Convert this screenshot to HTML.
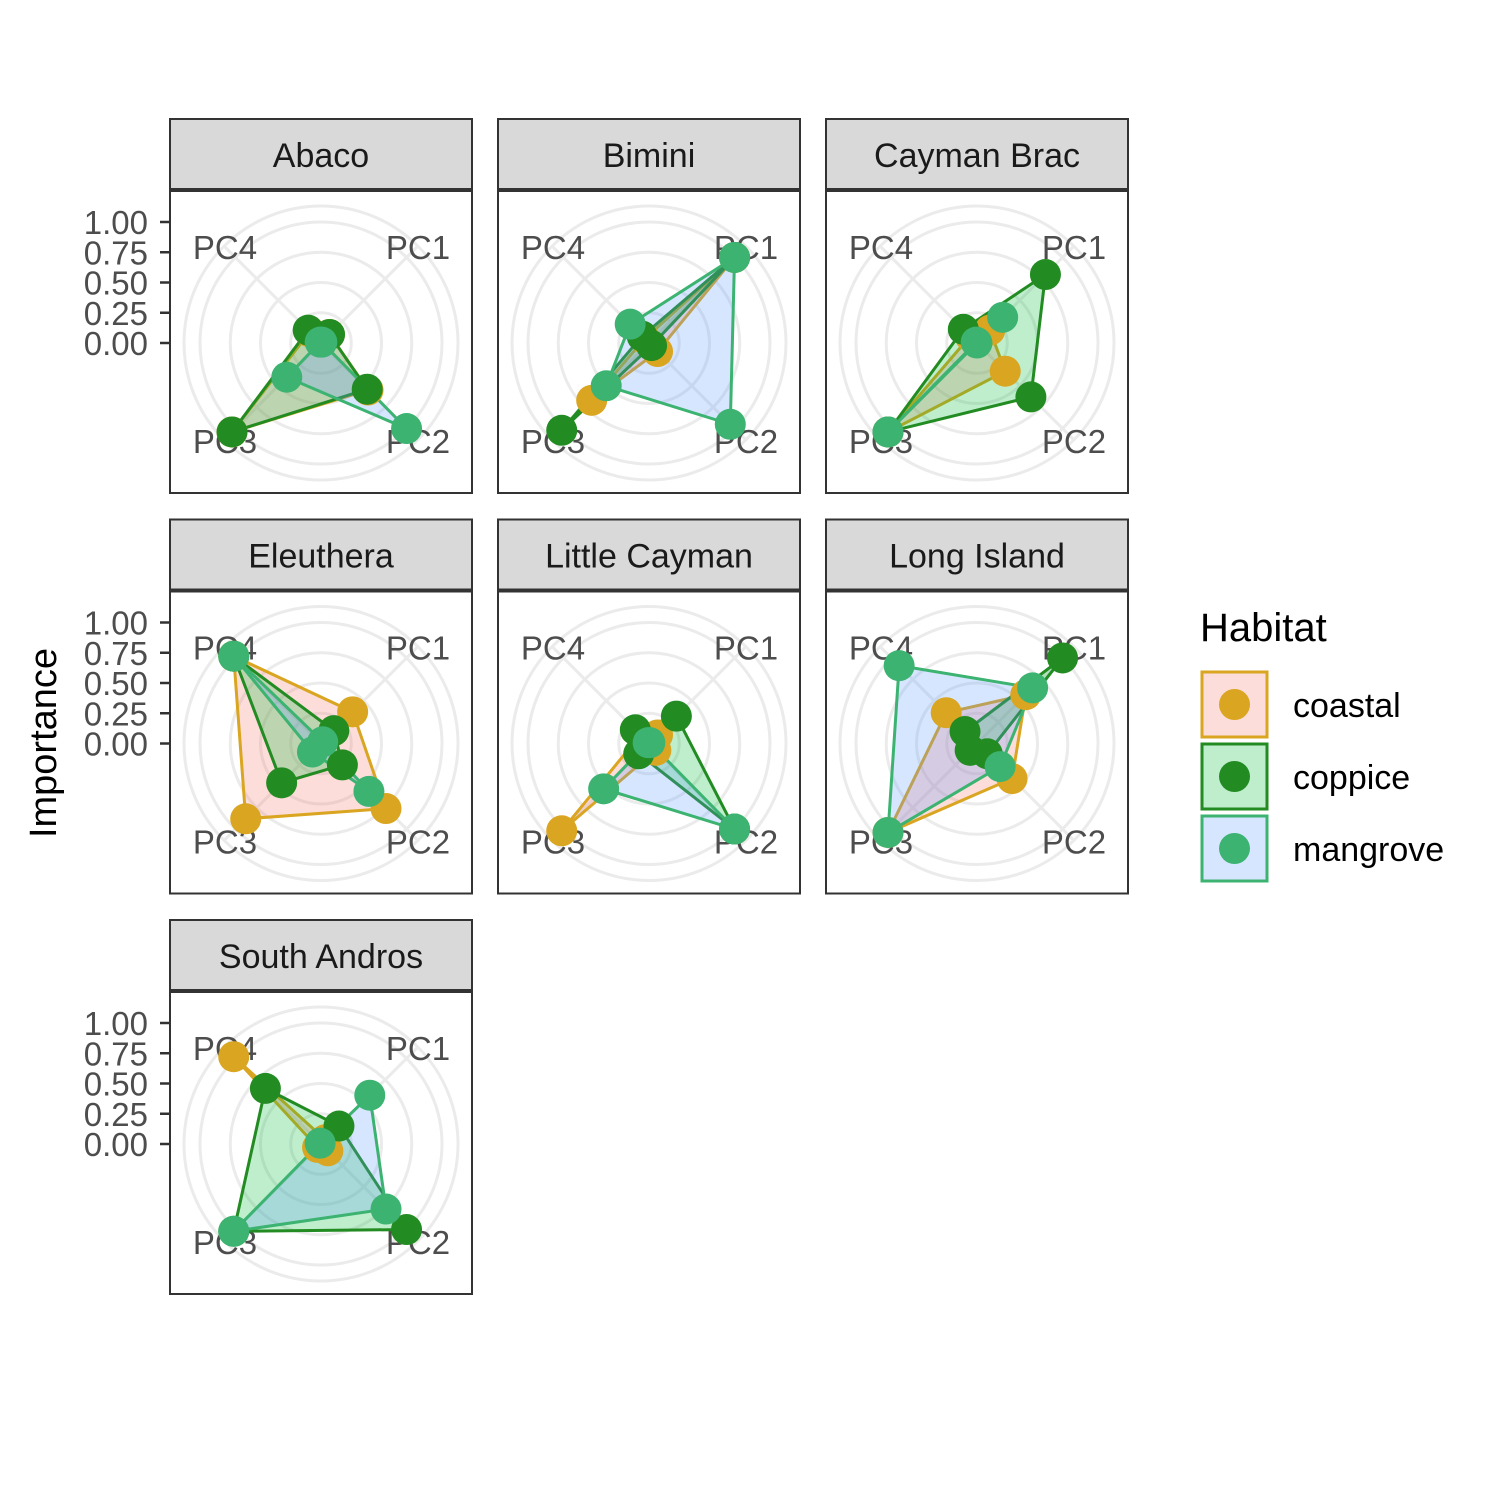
<!DOCTYPE html>
<html><head><meta charset="utf-8">
<style>
html,body{margin:0;padding:0;background:#fff;}
svg{display:block;font-family:"Liberation Sans",Arial,sans-serif;}
</style></head>
<body>
<svg id="chart" width="1500" height="1500" viewBox="0 0 1500 1500" xmlns="http://www.w3.org/2000/svg">
<rect x="0" y="0" width="1500" height="1500" fill="#ffffff"/>
<text x="0" y="0" transform="translate(56,743) rotate(-90)" text-anchor="middle" font-size="38" fill="#000">Importance</text>
<g>
<text x="1200" y="641" font-size="40" fill="#000">Habitat</text>
</g>
</svg>
<script>
const islands = ["Abaco","Bimini","Cayman Brac","Eleuthera","Little Cayman","Long Island","South Andros"];
const habitats = ["coastal","coppice","mangrove"];
const axesLabels = ["PC1","PC2","PC3","PC4"];
const tickValues = [0, 0.25, 0.5, 0.75, 1];
const tickLabels = ["0.00","0.25","0.50","0.75","1.00"];
// values per island, per habitat: [PC1, PC2, PC3, PC4]
const coastalVals = [
 [0.10,0.55,1.04,0.13],[1.00,0.10,0.67,0.05],[0.15,0.33,1.04,0.08],[0.37,0.76,0.88,1.02],
 [0.10,0.08,1.02,0.10],[0.57,0.41,1.04,0.36],[0.05,0.08,0.04,1.02]];
const coppiceVals = [
 [0.10,0.54,1.04,0.15],[1.00,0.03,1.02,0.08],[0.80,0.63,1.04,0.16],[0.15,0.25,0.46,1.02],
 [0.32,1.00,0.12,0.16],[1.00,0.12,0.08,0.14],[0.21,1.00,1.02,0.65]];
const mangroveVals = [
 [0.01,1.00,0.40,0.01],[1.00,0.95,0.50,0.22],[0.30,0.00,1.04,0.01],[0.02,0.56,0.10,1.02],
 [0.01,1.00,0.53,0.01],[0.65,0.27,1.04,0.91],[0.57,0.76,1.02,0.01]];
const seriesVals = [coastalVals, coppiceVals, mangroveVals];

const lineCols = ["#DAA520","#228B22","#3CB371"];
const fillCols = ["#F8766D","#00BA38","#619CFF"];
const NS = "http://www.w3.org/2000/svg";
const svg = document.getElementById("chart");
const R1 = 121;
function mk(tag, attrs, parent){const e=document.createElementNS(NS,tag);for(const k in attrs)e.setAttribute(k,attrs[k]);(parent||svg).appendChild(e);return e;}
const angles = [-45, 45, 135, 225].map(a=>a*Math.PI/180);
function rScale(v){return v*R1;}
function pt(cx,cy,i,v){const r=rScale(v);return [cx+r*Math.cos(angles[i]), cy+r*Math.sin(angles[i])];}

islands.forEach((name, k)=>{
  const col=k%3,row=Math.floor(k/3);
  const px=170+col*328, sy=119+row*400.5;
  const g=mk("g",{});
  
  
  const strip=mk("rect",{x:px,y:sy,width:302,height:70,fill:"#d9d9d9",stroke:"#333",["stroke-width"]:2},g);
  
  
  const st=mk("text",{x:px+151,y:sy+48,"text-anchor":"middle","font-size":34,fill:"#1a1a1a"},g);
  st.textContent=name;
  
  
  const top=sy+72;
  mk("rect",{x:px,y:top,width:302,height:302,fill:"#fff"},g);
  const cx=px+151, cy=top+152;
  [0.25,0.5,0.75,1.0].forEach(v=>mk("circle",{cx,cy,r:rScale(v),fill:"none",stroke:"#ebebeb","stroke-width":3},g));
  mk("circle",{cx,cy,r:137,fill:"none",stroke:"#ebebeb","stroke-width":3},g);
  for(let i=0;i<4;i++){const p=pt(cx,cy,i,1.13);mk("line",{x1:cx,y1:cy,x2:p[0],y2:p[1],stroke:"#ebebeb","stroke-width":3},g);}
  const lp=[[px+248,top+68],[px+248,top+262],[px+55,top+262],[px+55,top+68]];
  axesLabels.forEach((l,i)=>{const t=mk("text",{x:lp[i][0],y:lp[i][1],"text-anchor":"middle","font-size":33,fill:"#4d4d4d"},g);t.textContent=l;
    
    });
  if(col===0){tickValues.forEach((v,i)=>{const y=cy-rScale(v);
    mk("line",{x1:px-10,y1:y,x2:px,y2:y,stroke:"#333","stroke-width":2.5},g);
    const t=mk("text",{x:px-22,y:y+12,"text-anchor":"end","font-size":33,fill:"#4d4d4d"},g);t.textContent=tickLabels[i];
    
    });}
  const allPts=[];
  seriesVals.forEach((sv,h)=>{
    const vals=sv[k];const pts=vals.map((v,i)=>pt(cx,cy,i,v));
    allPts.push(pts);
    const poly=mk("polygon",{points:pts.map(p=>p.join(",")).join(" "),fill:fillCols[h],"fill-opacity":0.25,stroke:lineCols[h],"stroke-width":3},g);
    
    
  });
  allPts.forEach((pts,h)=>{
    pts.forEach(p=>{const c=mk("circle",{cx:p[0],cy:p[1],r:15.5,fill:lineCols[h]},g);
      
      });
  });
  mk("rect",{x:px,y:top,width:302,height:302,fill:"none",stroke:"#333","stroke-width":2},g);
});
habitats.forEach((h,i)=>{
  const y=672+i*72;
  const g=mk("g",{});
  
  
  mk("rect",{x:1202,y:y,width:65,height:65,fill:"#fff"},g);
  mk("rect",{x:1202,y:y,width:65,height:65,fill:fillCols[i],"fill-opacity":0.25,stroke:lineCols[i],"stroke-width":3},g);
  mk("circle",{cx:1234.5,cy:y+32.5,r:15.5,fill:lineCols[i]},g);
  const t=mk("text",{x:1293,y:y+45,"font-size":34,fill:"#000"},g);t.textContent=h;
});
</script>
</body></html>
